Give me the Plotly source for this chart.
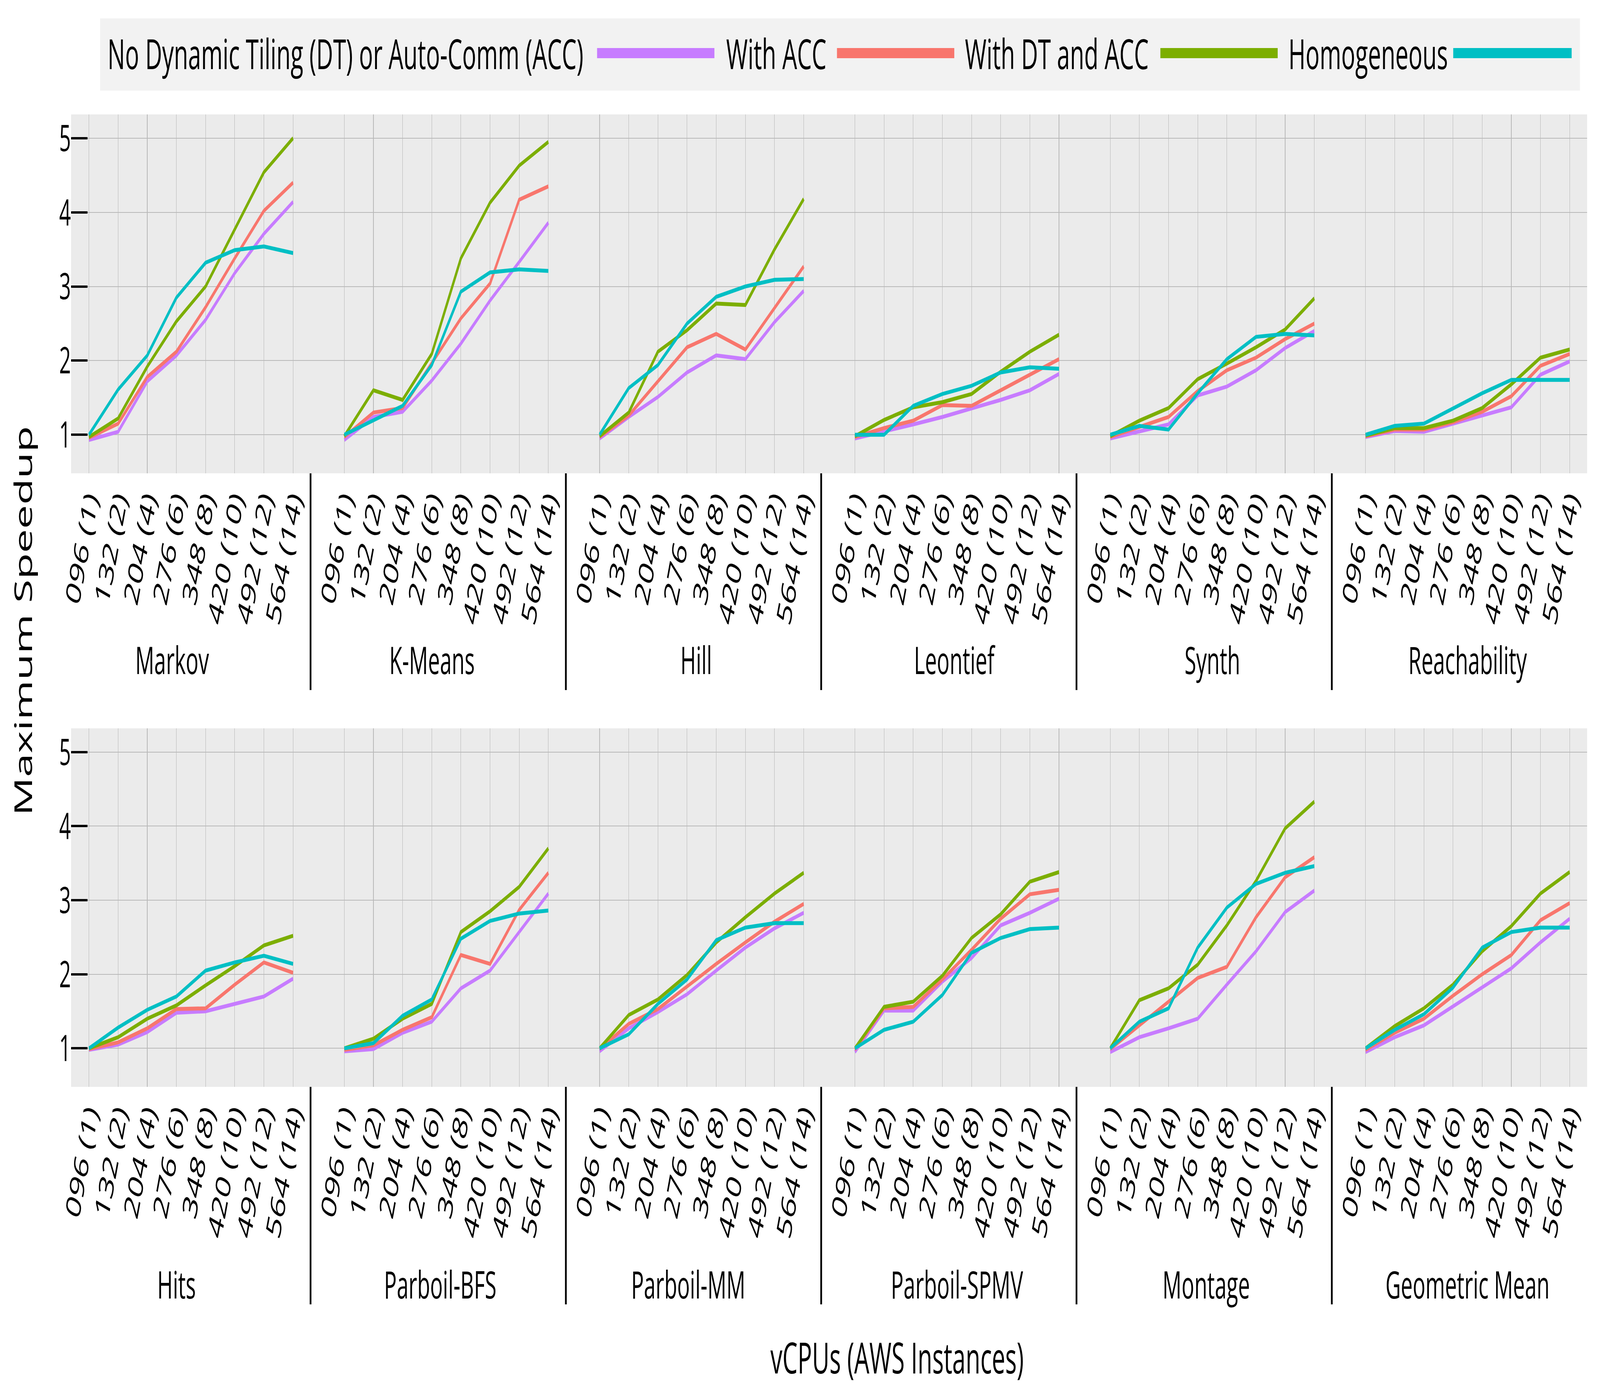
import plotly.graph_objects as go

# Figure is laid out in the reference's own pixel grid; a small post-script fits it to the window.
W, H = 7337, 3549

instances = ["096 (1)", "132 (2)", "204 (4)", "276 (6)", "348 (8)", "420 (10)", "492 (12)", "564 (14)"]
rows_benchmarks = [
    ["Markov", "K-Means", "Hill", "Leontief", "Synth", "Reachability"],
    ["Hits", "Parboil-BFS", "Parboil-MM", "Parboil-SPMV", "Montage", "Geometric Mean"],
]
series_names = ["No Dynamic Tiling (DT) or Auto-Comm (ACC)", "With ACC", "With DT and ACC", "Homogeneous"]
series_colors = ["#C77CFF", "#F8766D", "#7CAE00", "#00BFC4"]

no_dt_acc = {
    "Markov":         [0.93, 1.04, 1.72, 2.07, 2.55, 3.18, 3.71, 4.14],
    "K-Means":        [0.93, 1.24, 1.31, 1.73, 2.23, 2.81, 3.33, 3.86],
    "Hill":           [0.95, 1.24, 1.51, 1.84, 2.07, 2.02, 2.52, 2.94],
    "Leontief":       [0.95, 1.04, 1.14, 1.24, 1.35, 1.47, 1.60, 1.82],
    "Synth":          [0.95, 1.04, 1.14, 1.53, 1.65, 1.87, 2.17, 2.40],
    "Reachability":   [0.97, 1.05, 1.04, 1.15, 1.25, 1.37, 1.81, 1.99],
    "Hits":           [0.98, 1.05, 1.22, 1.48, 1.50, 1.60, 1.70, 1.94],
    "Parboil-BFS":    [0.96, 0.99, 1.21, 1.36, 1.81, 2.05, 2.57, 3.09],
    "Parboil-MM":     [0.96, 1.27, 1.49, 1.73, 2.05, 2.36, 2.62, 2.83],
    "Parboil-SPMV":   [0.95, 1.51, 1.51, 1.90, 2.22, 2.66, 2.83, 3.02],
    "Montage":        [0.95, 1.15, 1.27, 1.40, 1.86, 2.31, 2.84, 3.13],
    "Geometric Mean": [0.95, 1.15, 1.31, 1.57, 1.82, 2.08, 2.43, 2.75],
}
with_acc = {
    "Markov":         [0.96, 1.15, 1.78, 2.12, 2.72, 3.38, 4.02, 4.40],
    "K-Means":        [0.97, 1.30, 1.36, 1.96, 2.57, 3.04, 4.17, 4.35],
    "Hill":           [0.97, 1.26, 1.72, 2.18, 2.36, 2.15, 2.71, 3.27],
    "Leontief":       [0.97, 1.09, 1.19, 1.40, 1.39, 1.60, 1.81, 2.02],
    "Synth":          [0.97, 1.11, 1.24, 1.59, 1.87, 2.04, 2.29, 2.50],
    "Reachability":   [0.98, 1.07, 1.07, 1.17, 1.31, 1.52, 1.93, 2.09],
    "Hits":           [0.99, 1.08, 1.27, 1.53, 1.54, 1.86, 2.16, 2.02],
    "Parboil-BFS":    [0.98, 1.04, 1.25, 1.42, 2.26, 2.14, 2.87, 3.37],
    "Parboil-MM":     [0.99, 1.33, 1.53, 1.84, 2.14, 2.43, 2.71, 2.95],
    "Parboil-SPMV":   [0.98, 1.54, 1.56, 1.93, 2.33, 2.75, 3.08, 3.14],
    "Montage":        [0.99, 1.31, 1.62, 1.95, 2.10, 2.77, 3.31, 3.58],
    "Geometric Mean": [0.98, 1.21, 1.40, 1.71, 2.00, 2.26, 2.73, 2.96],
}
with_dt_acc = {
    "Markov":         [0.97, 1.22, 1.92, 2.53, 3.00, 3.77, 4.54, 5.00],
    "K-Means":        [0.98, 1.60, 1.47, 2.09, 3.38, 4.13, 4.63, 4.95],
    "Hill":           [0.98, 1.30, 2.12, 2.41, 2.77, 2.75, 3.50, 4.18],
    "Leontief":       [0.98, 1.20, 1.37, 1.44, 1.55, 1.85, 2.12, 2.35],
    "Synth":          [0.98, 1.19, 1.36, 1.75, 1.96, 2.18, 2.42, 2.84],
    "Reachability":   [0.99, 1.09, 1.09, 1.19, 1.36, 1.68, 2.04, 2.15],
    "Hits":           [1.00, 1.15, 1.40, 1.58, 1.85, 2.11, 2.39, 2.52],
    "Parboil-BFS":    [1.00, 1.13, 1.40, 1.60, 2.57, 2.85, 3.18, 3.70],
    "Parboil-MM":     [1.00, 1.45, 1.66, 1.99, 2.43, 2.77, 3.09, 3.37],
    "Parboil-SPMV":   [1.00, 1.56, 1.63, 1.98, 2.49, 2.81, 3.25, 3.38],
    "Montage":        [1.00, 1.65, 1.81, 2.13, 2.66, 3.26, 3.97, 4.33],
    "Geometric Mean": [1.00, 1.30, 1.54, 1.86, 2.31, 2.65, 3.09, 3.38],
}
homogeneous = {
    "Markov":         [1.00, 1.61, 2.07, 2.85, 3.32, 3.49, 3.54, 3.45],
    "K-Means":        [1.00, 1.19, 1.39, 1.94, 2.93, 3.19, 3.23, 3.21],
    "Hill":           [1.00, 1.63, 1.94, 2.50, 2.86, 3.00, 3.09, 3.10],
    "Leontief":       [1.00, 1.00, 1.39, 1.55, 1.66, 1.84, 1.91, 1.89],
    "Synth":          [1.00, 1.12, 1.07, 1.56, 2.02, 2.32, 2.36, 2.34],
    "Reachability":   [1.00, 1.12, 1.15, 1.35, 1.56, 1.74, 1.74, 1.74],
    "Hits":           [1.00, 1.28, 1.52, 1.70, 2.05, 2.16, 2.25, 2.14],
    "Parboil-BFS":    [1.00, 1.07, 1.44, 1.66, 2.48, 2.72, 2.82, 2.86],
    "Parboil-MM":     [1.00, 1.19, 1.60, 1.93, 2.46, 2.63, 2.69, 2.69],
    "Parboil-SPMV":   [1.00, 1.25, 1.36, 1.72, 2.29, 2.49, 2.61, 2.63],
    "Montage":        [1.00, 1.36, 1.54, 2.36, 2.90, 3.22, 3.37, 3.46],
    "Geometric Mean": [1.00, 1.25, 1.46, 1.82, 2.36, 2.57, 2.63, 2.63],
}
series_data = [no_dt_acc, with_acc, with_dt_acc, homogeneous]

y_ticks = [1, 2, 3, 4, 5]
x_title = "vCPUs (AWS Instances)"
y_title = "Maximum Speedup"

# ---- layout geometry (reference pixels) ----
FONT = "Open Sans"
PLOT_L, PLOT_R = 326, 7278
ROW_PX = [(293, 1212), (1865, 2783)]
GROUP_PERIOD = 8.757      # category units between first categories of adjacent panels
PAD = 0.6                 # panel padding (category units)
n_cat = len(instances)
X0 = -0.613
X1 = 5 * GROUP_PERIOD + (n_cat - 1) + PAD
UNIT_PX = (PLOT_R - PLOT_L) / (X1 - X0)
TICK_FONT = 94
# horizontal nudges of the panel captions (reference pixels)
label_dx = [[-86, -66, -25, -10, 0, 0], [-66, -28, -61, 0, -28, 0]]

def py(p):
    return 1 - p / H

def px(p):
    return p / W

fig = go.Figure()

GRID = "#B8B8B8"

for r, benches in enumerate(rows_benchmarks):
    xa = "x" if r == 0 else "x2"
    ya = "y" if r == 0 else "y2"
    tickvals, ticktext = [], []
    for g, b in enumerate(benches):
        xs = [g * GROUP_PERIOD + i for i in range(n_cat)]
        tickvals += xs
        ticktext += instances
        for name, color, data in zip(series_names, series_colors, series_data):
            fig.add_trace(go.Scatter(
                x=xs, y=data[b], mode="lines", name=name,
                line=dict(color=color, width=10),
                xaxis=xa, yaxis=ya, showlegend=False,
                hovertemplate=b + "<br>%{text}<br>%{y:.2f}<extra>" + name + "</extra>",
                text=instances,
            ))
    top, bot = ROW_PX[r]
    axis_common = dict(
        domain=[px(PLOT_L), px(PLOT_R)], range=[X0, X1], automargin=False,
        tickmode="array", tickvals=tickvals, ticktext=ticktext,
        tickangle=-72, showgrid=True, gridcolor=GRID, gridwidth=2,
        zeroline=False, showline=False, ticks="",
        tickfont=dict(family=FONT, size=TICK_FONT, color="black"),
    )
    yaxis_common = dict(
        domain=[py(bot), py(top)], range=[0.48, 5.32], automargin=False,
        tickmode="array", tickvals=y_ticks, ticktext=[str(v) for v in y_ticks],
        showgrid=True, gridcolor=GRID, gridwidth=2, zeroline=False, showline=False,
        ticks="inside", ticklen=75, tickwidth=6, tickcolor="black",
        tickfont=dict(family=FONT, size=TICK_FONT, color="black"),
    )
    if r == 0:
        fig.update_layout(xaxis=dict(anchor="y", **axis_common), yaxis=dict(anchor="x", **yaxis_common))
    else:
        fig.update_layout(xaxis2=dict(anchor="y2", **axis_common), yaxis2=dict(anchor="x2", **yaxis_common))

    # panel captions and dividers
    label_y = [1688, 3287][r]
    div_bottom = [1767, 3340][r]
    for g, b in enumerate(benches):
        fig.add_annotation(
            x=g * GROUP_PERIOD + (n_cat - 1) / 2 + label_dx[r][g] / UNIT_PX, xref=xa,
            y=py(label_y), yref="paper",
            text=b, showarrow=False, xanchor="center", yanchor="middle",
            font=dict(family=FONT, size=97, color="black"),
        )
        if g < len(benches) - 1:
            xd = g * GROUP_PERIOD + (n_cat - 1) + PAD
            fig.add_shape(type="line", xref=xa, yref="paper", x0=xd, x1=xd,
                          y0=py(bot), y1=py(div_bottom), line=dict(color="black", width=8))

# axis titles
fig.add_annotation(x=px(4114), y=py(3474), xref="paper", yref="paper", text=x_title,
                   showarrow=False, xanchor="center", yanchor="middle",
                   font=dict(family=FONT, size=110, color="black"))
fig.add_annotation(x=px(103), y=py(1590), xref="paper", yref="paper", text=y_title,
                   showarrow=False, xanchor="center", yanchor="middle", textangle=-90,
                   font=dict(family=FONT, size=110, color="black"))

# legend drawn as a strip: each label followed by its line key
fig.add_shape(type="rect", xref="paper", yref="paper", x0=px(459), x1=px(7245), y0=py(232), y1=py(47),
              fillcolor="#F2F2F2", line=dict(width=0), layer="below")
legend_text_x = [491, 3328, 4423, 5906]
legend_line_x = [(2738, 3276), (3838, 4376), (5321, 5859), (6664, 7207)]
LEG_Y = 136
for name, color, tx, (l0, l1) in zip(series_names, series_colors, legend_text_x, legend_line_x):
    fig.add_annotation(x=px(tx), y=py(LEG_Y), xref="paper", yref="paper", text=name,
                       showarrow=False, xanchor="left", yanchor="middle",
                       font=dict(family=FONT, size=107, color="black"))
    fig.add_shape(type="line", xref="paper", yref="paper", x0=px(l0), x1=px(l1),
                  y0=py(LEG_Y), y1=py(LEG_Y), line=dict(color=color, width=26))

fig.update_layout(
    template="none",
    width=W, height=H, autosize=False,
    margin=dict(l=0, r=0, t=0, b=0, pad=0),
    plot_bgcolor="#EBEBEB", paper_bgcolor="white",
    font=dict(family=FONT, color="black"),
    showlegend=False,
)

fit_script = """
(function(){
  var gd = document.getElementById('{plot_id}');
  var de = document.documentElement, bd = document.body;
  de.style.margin = '0'; bd.style.margin = '0';
  de.style.overflow = 'hidden'; bd.style.overflow = 'hidden';
  var sx = window.innerWidth / %d, sy = window.innerHeight / %d;
  gd.style.transformOrigin = '0 0';
  gd.style.transform = 'scale(' + sx + ',' + sy + ')';
})();
""" % (W, H)

fig.write_html("out.html", config={"displayModeBar": False, "responsive": False},
               post_script=fit_script)
